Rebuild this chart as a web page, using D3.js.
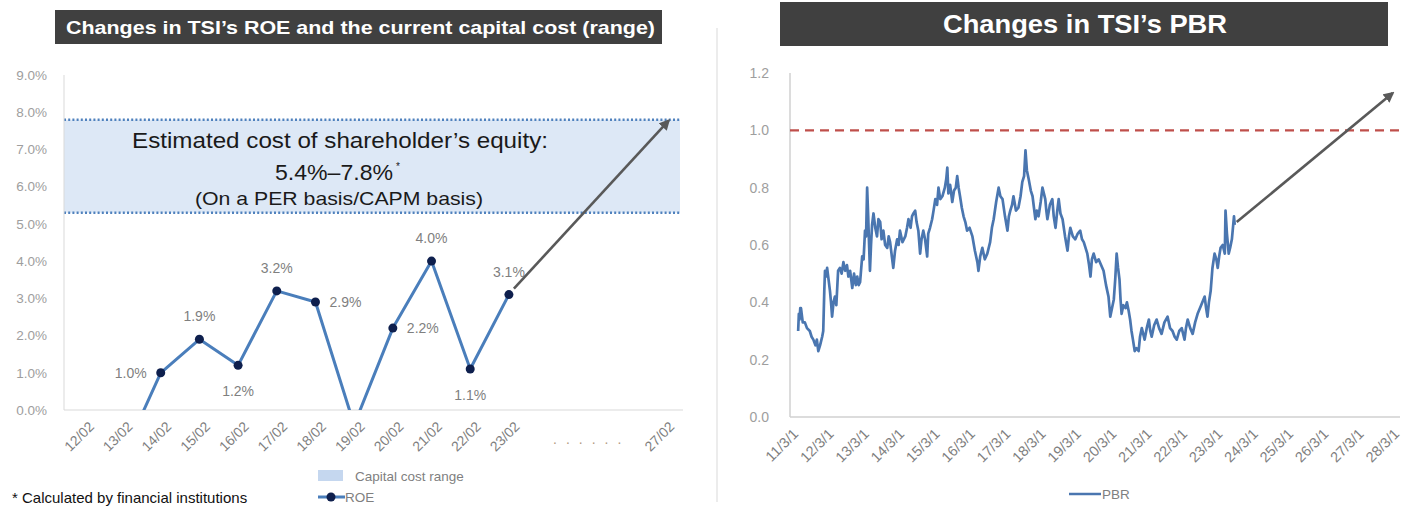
<!DOCTYPE html>
<html><head><meta charset="utf-8">
<script src="https://cdn.jsdelivr.net/npm/d3@7"></script>
<style>body{margin:0;background:#fff} svg{display:block}</style>
</head><body>
<svg id="c" width="1410" height="506"></svg>
<script>
// ---------- DATA ----------
const roeCategories = ["12/02","13/02","14/02","15/02","16/02","17/02","18/02","19/02","20/02","21/02","22/02","23/02","","","","27/02"];
const roeValues = [-1.6,-1.3,1.0,1.9,1.2,3.2,2.9,-0.4,2.2,4.0,1.1,3.1,null,null,null,null];
const roeTicks = [0,1,2,3,4,5,6,7,8,9];
const capitalCostRange = [5.3, 7.8];
const roeTarget = 7.8;
const leftTitle = "Changes in TSI\u2019s ROE and the current capital cost (range)";
const annotationLines = ["Estimated cost of shareholder\u2019s equity:", "5.4%\u20137.8%", "(On a PER basis/CAPM basis)"];
const footnote = "* Calculated by financial institutions";

const rightTitle = "Changes in TSI\u2019s PBR";
const pbrTicks = [0,0.2,0.4,0.6,0.8,1.0,1.2];
const pbrTickYears = d3.range(2011, 2029);
const pbrReference = 1.0;
const pbrTarget = [2028.07, 1.13];
const pbrPoints = [[2011.25,0.30],[2011.27,0.36],[2011.29,0.34],[2011.31,0.38],[2011.33,0.38],[2011.38,0.33],[2011.44,0.33],[2011.50,0.31],[2011.58,0.30],[2011.63,0.28],[2011.68,0.27],[2011.74,0.25],[2011.78,0.27],[2011.82,0.23],[2011.87,0.25],[2011.93,0.28],[2011.96,0.30],[2011.99,0.44],[2012.01,0.51],[2012.04,0.49],[2012.07,0.52],[2012.11,0.48],[2012.15,0.44],[2012.18,0.40],[2012.21,0.35],[2012.25,0.40],[2012.29,0.42],[2012.33,0.39],[2012.38,0.51],[2012.43,0.52],[2012.48,0.50],[2012.53,0.54],[2012.58,0.51],[2012.63,0.53],[2012.67,0.49],[2012.72,0.51],[2012.78,0.45],[2012.83,0.50],[2012.88,0.46],[2012.92,0.49],[2012.96,0.46],[2013.00,0.47],[2013.06,0.56],[2013.10,0.55],[2013.14,0.65],[2013.17,0.63],[2013.20,0.80],[2013.23,0.70],[2013.25,0.62],[2013.28,0.51],[2013.31,0.60],[2013.34,0.67],[2013.38,0.71],[2013.43,0.66],[2013.48,0.63],[2013.52,0.69],[2013.57,0.68],[2013.61,0.62],[2013.66,0.65],[2013.71,0.60],[2013.77,0.59],[2013.81,0.63],[2013.85,0.61],[2013.90,0.56],[2013.94,0.52],[2013.99,0.58],[2014.05,0.62],[2014.09,0.60],[2014.13,0.65],[2014.20,0.61],[2014.28,0.63],[2014.33,0.66],[2014.37,0.69],[2014.43,0.66],[2014.47,0.70],[2014.51,0.71],[2014.56,0.72],[2014.60,0.68],[2014.65,0.65],[2014.70,0.57],[2014.74,0.62],[2014.79,0.65],[2014.84,0.62],[2014.90,0.56],[2014.93,0.64],[2014.98,0.66],[2015.04,0.69],[2015.08,0.72],[2015.13,0.76],[2015.18,0.74],[2015.22,0.80],[2015.27,0.76],[2015.33,0.77],[2015.40,0.80],[2015.44,0.83],[2015.47,0.87],[2015.50,0.78],[2015.55,0.81],[2015.61,0.75],[2015.66,0.79],[2015.71,0.80],[2015.75,0.84],[2015.79,0.80],[2015.83,0.77],[2015.88,0.73],[2015.93,0.70],[2015.98,0.68],[2016.03,0.65],[2016.10,0.66],[2016.18,0.63],[2016.25,0.58],[2016.32,0.54],[2016.35,0.51],[2016.40,0.56],[2016.46,0.59],[2016.53,0.55],[2016.60,0.57],[2016.64,0.59],[2016.68,0.61],[2016.73,0.66],[2016.78,0.69],[2016.85,0.75],[2016.92,0.80],[2016.97,0.77],[2017.03,0.76],[2017.10,0.70],[2017.17,0.65],[2017.21,0.70],[2017.25,0.72],[2017.30,0.74],[2017.34,0.77],[2017.41,0.72],[2017.48,0.73],[2017.54,0.77],[2017.59,0.82],[2017.64,0.84],[2017.68,0.93],[2017.72,0.86],[2017.77,0.83],[2017.83,0.79],[2017.88,0.77],[2017.92,0.73],[2017.96,0.69],[2018.00,0.72],[2018.05,0.70],[2018.11,0.75],[2018.16,0.80],[2018.20,0.78],[2018.24,0.76],[2018.27,0.72],[2018.30,0.69],[2018.37,0.74],[2018.44,0.76],[2018.48,0.70],[2018.53,0.66],[2018.58,0.72],[2018.62,0.76],[2018.67,0.71],[2018.73,0.69],[2018.80,0.63],[2018.87,0.58],[2018.91,0.63],[2018.95,0.66],[2019.02,0.63],[2019.09,0.62],[2019.16,0.64],[2019.23,0.65],[2019.28,0.62],[2019.33,0.61],[2019.38,0.59],[2019.43,0.57],[2019.48,0.53],[2019.52,0.49],[2019.56,0.55],[2019.61,0.57],[2019.68,0.54],[2019.75,0.55],[2019.82,0.53],[2019.89,0.51],[2019.96,0.46],[2020.03,0.42],[2020.08,0.35],[2020.13,0.38],[2020.18,0.41],[2020.22,0.48],[2020.26,0.57],[2020.30,0.52],[2020.34,0.48],[2020.37,0.41],[2020.40,0.36],[2020.45,0.39],[2020.51,0.38],[2020.55,0.40],[2020.60,0.37],[2020.64,0.34],[2020.68,0.30],[2020.72,0.27],[2020.77,0.23],[2020.82,0.24],[2020.88,0.23],[2020.92,0.28],[2020.97,0.31],[2021.01,0.29],[2021.05,0.27],[2021.11,0.31],[2021.17,0.34],[2021.21,0.30],[2021.25,0.28],[2021.32,0.32],[2021.39,0.34],[2021.46,0.31],[2021.53,0.29],[2021.61,0.33],[2021.70,0.35],[2021.77,0.31],[2021.84,0.30],[2021.90,0.28],[2021.96,0.27],[2022.03,0.30],[2022.10,0.31],[2022.14,0.29],[2022.18,0.27],[2022.22,0.31],[2022.27,0.34],[2022.34,0.31],[2022.41,0.29],[2022.48,0.33],[2022.55,0.36],[2022.65,0.39],[2022.75,0.42],[2022.79,0.38],[2022.83,0.35],[2022.87,0.40],[2022.92,0.44],[2022.97,0.52],[2023.03,0.57],[2023.08,0.55],[2023.12,0.52],[2023.16,0.56],[2023.20,0.59],[2023.26,0.60],[2023.32,0.57],[2023.34,0.72],[2023.38,0.64],[2023.43,0.57],[2023.47,0.59],[2023.52,0.62],[2023.55,0.66],[2023.58,0.70],[2023.60,0.67]];

// ---------- HELPERS ----------
const svg = d3.select("#c");
const FONT = "'Liberation Sans', Arial, sans-serif";
const TICKC = "#9e9e9e";
const XTICKC = "#7f7f7f";
const LBLC = "#7f7f7f";
function yearToDate(y){ const yr = Math.floor(y); const s = new Date(yr,0,1), e = new Date(yr+1,0,1); return new Date(+s + (y-yr)*(e-s)); }

const defs = svg.append("defs");
defs.append("marker").attr("id","arrow").attr("viewBox","0 0 10 10").attr("refX",8).attr("refY",5)
  .attr("markerWidth",4.2).attr("markerHeight",4.2).attr("orient","auto")
  .append("path").attr("d","M0,0 L10,5 L0,10 z").attr("fill","#595959");

// ---------- LEFT PANEL ----------
const L = {x0:64, x1:683, y0:410, y1:75};
const xL = d3.scaleBand().domain(d3.range(roeCategories.length)).range([L.x0, L.x1]);
const cx = i => xL(i) + xL.bandwidth()/2;
const yL = d3.scaleLinear().domain([0,9]).range([L.y0, L.y1]);

// title
svg.append("rect").attr("x",55).attr("y",10).attr("width",607).attr("height",34).attr("fill","#404040");
svg.append("text").attr("x",66).attr("y",34).attr("font-family",FONT).attr("font-weight","bold")
  .attr("font-size",19).attr("fill","#fff").attr("textLength",589).attr("lengthAdjust","spacingAndGlyphs").text(leftTitle);

// band
svg.append("rect").attr("x",L.x0).attr("width",680-L.x0)
  .attr("y",yL(capitalCostRange[1])).attr("height",yL(capitalCostRange[0])-yL(capitalCostRange[1]))
  .attr("fill","#dde8f6");
capitalCostRange.forEach(v=>{
  svg.append("line").attr("x1",L.x0).attr("x2",680).attr("y1",yL(v)).attr("y2",yL(v))
    .attr("stroke","#4f81bd").attr("stroke-width",2.5).attr("stroke-dasharray","2,2.2");
});

// axes
svg.append("line").attr("x1",L.x0).attr("x2",L.x0).attr("y1",L.y1).attr("y2",L.y0).attr("stroke","#d9d9d9");
svg.append("line").attr("x1",L.x0).attr("x2",L.x1).attr("y1",L.y0).attr("y2",L.y0).attr("stroke","#d9d9d9");
const yAxL = svg.append("g").attr("transform",`translate(${L.x0-17},0)`)
  .call(d3.axisLeft(yL).tickValues(roeTicks).tickFormat(d=>d3.format(".1f")(d)+"%").tickSize(0).tickPadding(0));
yAxL.select(".domain").remove();
yAxL.selectAll("text").attr("font-family",FONT).attr("font-size",13.5).attr("fill",TICKC);

const xAxL = svg.append("g").attr("transform",`translate(0,${L.y0})`)
  .call(d3.axisBottom(xL).tickFormat(i=>roeCategories[i]).tickSize(0));
xAxL.select(".domain").remove();
xAxL.selectAll("text").attr("font-family",FONT).attr("font-size",14).attr("fill",XTICKC)
  .attr("text-anchor","end").attr("transform","translate(6,12) rotate(-45)").attr("dy","0.35em");
svg.append("text").attr("x",553).attr("y",444).attr("text-anchor","start")
  .attr("font-family",FONT).attr("font-size",14).attr("fill","#b39a82").attr("letter-spacing",9).text("......");

// annotation
const ann = svg.append("g").attr("font-family",FONT).attr("fill","#1a1a1a");
ann.append("text").attr("x",132).attr("y",148).attr("font-size",22).attr("textLength",416).attr("lengthAdjust","spacingAndGlyphs").text(annotationLines[0]);
ann.append("text").attr("x",275).attr("y",180).attr("font-size",22).attr("textLength",118).attr("lengthAdjust","spacingAndGlyphs").text(annotationLines[1]);
ann.append("text").attr("x",396).attr("y",170).attr("font-size",10).text("*");
ann.append("text").attr("x",195).attr("y",205).attr("font-size",19).attr("textLength",288).attr("lengthAdjust","spacingAndGlyphs").text(annotationLines[2]);

// ROE line
defs.append("clipPath").attr("id","clipL").append("rect").attr("x",L.x0).attr("y",L.y1-10).attr("width",L.x1-L.x0).attr("height",L.y0-L.y1+10);
const roeData = roeValues.map((v,i)=>({i,v})).filter(d=>d.v!==null);
svg.append("path").datum(roeData).attr("clip-path","url(#clipL)")
  .attr("d",d3.line().x(d=>cx(d.i)).y(d=>yL(d.v)))
  .attr("fill","none").attr("stroke","#4a7ebb").attr("stroke-width",3).attr("stroke-linejoin","round");
const vis = roeData.filter(d=>d.v>=0);
svg.selectAll(".m").data(vis).join("circle").attr("cx",d=>cx(d.i)).attr("cy",d=>yL(d.v)).attr("r",4.5).attr("fill","#0e1f4d");
const place = {2:"left",3:"top",4:"bottom",5:"top",6:"right",8:"right",9:"top",10:"bottom",11:"top"};
svg.selectAll(".dl").data(vis).join("text").attr("font-family",FONT).attr("font-size",14).attr("fill",LBLC)
  .attr("x",d=>{const p=place[d.i]; return p==="left"?cx(d.i)-14:p==="right"?cx(d.i)+14:cx(d.i);})
  .attr("y",d=>{const p=place[d.i]; return p==="top"?yL(d.v)-18:p==="bottom"?yL(d.v)+31:yL(d.v)+5;})
  .attr("text-anchor",d=>{const p=place[d.i]; return p==="left"?"end":p==="right"?"start":"middle";})
  .text(d=>d3.format(".1f")(d.v)+"%");

// arrow
svg.append("line").attr("x1",cx(11)+5).attr("y1",yL(3.1)-6).attr("x2",cx(15)+5).attr("y2",yL(roeTarget)+1)
  .attr("stroke","#595959").attr("stroke-width",2.6).attr("marker-end","url(#arrow)");

// legends
svg.append("rect").attr("x",318).attr("y",470).attr("width",25).attr("height",11).attr("fill","#c5d7ef");
svg.append("text").attr("x",355).attr("y",481).attr("font-family",FONT).attr("font-size",13.5).attr("fill",LBLC).text("Capital cost range");
svg.append("line").attr("x1",318).attr("x2",345).attr("y1",497).attr("y2",497).attr("stroke","#4a7ebb").attr("stroke-width",3);
svg.append("circle").attr("cx",331).attr("cy",497).attr("r",4.5).attr("fill","#0e1f4d");
svg.append("text").attr("x",345).attr("y",502).attr("font-family",FONT).attr("font-size",13.5).attr("fill",LBLC).text("ROE");
svg.append("text").attr("x",12).attr("y",503).attr("font-family",FONT).attr("font-size",15).attr("fill","#111").text(footnote);

// separator
svg.append("line").attr("x1",717).attr("x2",717).attr("y1",28).attr("y2",502).attr("stroke","#d9d9d9");

// ---------- RIGHT PANEL ----------
const R = {x0:790, x1:1400, y0:417, y1:73};
const xR = d3.scaleTime().domain([new Date(2011,0,8), new Date(2028,3,11)]).range([R.x0, R.x1]);
const yR = d3.scaleLinear().domain([0,1.2]).range([R.y0, R.y1]);

svg.append("rect").attr("x",780).attr("y",2).attr("width",608).attr("height",44).attr("fill","#404040");
svg.append("text").attr("x",943).attr("y",33).attr("font-family",FONT).attr("font-weight","bold")
  .attr("font-size",25).attr("fill","#fff").attr("textLength",284).attr("lengthAdjust","spacingAndGlyphs").text(rightTitle);

svg.append("line").attr("x1",R.x0).attr("x2",R.x0).attr("y1",R.y1).attr("y2",R.y0).attr("stroke","#d0d0d0").attr("stroke-width",1.5);
svg.append("line").attr("x1",R.x0).attr("x2",R.x1).attr("y1",R.y0).attr("y2",R.y0).attr("stroke","#d0d0d0").attr("stroke-width",1.5);

const yAxR = svg.append("g").attr("transform",`translate(${R.x0-21},0)`)
  .call(d3.axisLeft(yR).tickValues(pbrTicks).tickFormat(d3.format(".1f")).tickSize(0).tickPadding(0));
yAxR.select(".domain").remove();
yAxR.selectAll("text").attr("font-family",FONT).attr("font-size",14).attr("fill",TICKC);

const tickDates = pbrTickYears.map(y=>new Date(y,2,1));
const xAxR = svg.append("g").attr("transform",`translate(0,${R.y0})`)
  .call(d3.axisBottom(xR).tickValues(tickDates).tickFormat(d=>`${String(d.getFullYear()).slice(2)}/${d.getMonth()+1}/${d.getDate()}`).tickSize(0));
xAxR.select(".domain").remove();
xAxR.selectAll("text").attr("font-family",FONT).attr("font-size",14.5).attr("fill",XTICKC)
  .attr("text-anchor","end").attr("transform","translate(-2,12) rotate(-45)").attr("dy","0.35em");

svg.append("line").attr("x1",R.x0).attr("x2",R.x1).attr("y1",yR(pbrReference)).attr("y2",yR(pbrReference))
  .attr("stroke","#bf4f4b").attr("stroke-width",2.2).attr("stroke-dasharray","9,6");

svg.append("path").datum(pbrPoints)
  .attr("d",d3.line().x(d=>xR(yearToDate(d[0]))).y(d=>yR(d[1])))
  .attr("fill","none").attr("stroke","#4a76b0").attr("stroke-width",2.7).attr("stroke-linejoin","round");

const last = pbrPoints[pbrPoints.length-1];
svg.append("line").attr("x1",xR(yearToDate(last[0]))+2).attr("y1",yR(last[1]+0.01))
  .attr("x2",xR(yearToDate(pbrTarget[0]))).attr("y2",yR(pbrTarget[1]))
  .attr("stroke","#595959").attr("stroke-width",2.6).attr("marker-end","url(#arrow)");

svg.append("line").attr("x1",1069).attr("x2",1101).attr("y1",494).attr("y2",494).attr("stroke","#4a76b0").attr("stroke-width",2.5);
svg.append("text").attr("x",1102).attr("y",499).attr("font-family",FONT).attr("font-size",13.5).attr("fill",LBLC).text("PBR");
</script>
</body></html>
